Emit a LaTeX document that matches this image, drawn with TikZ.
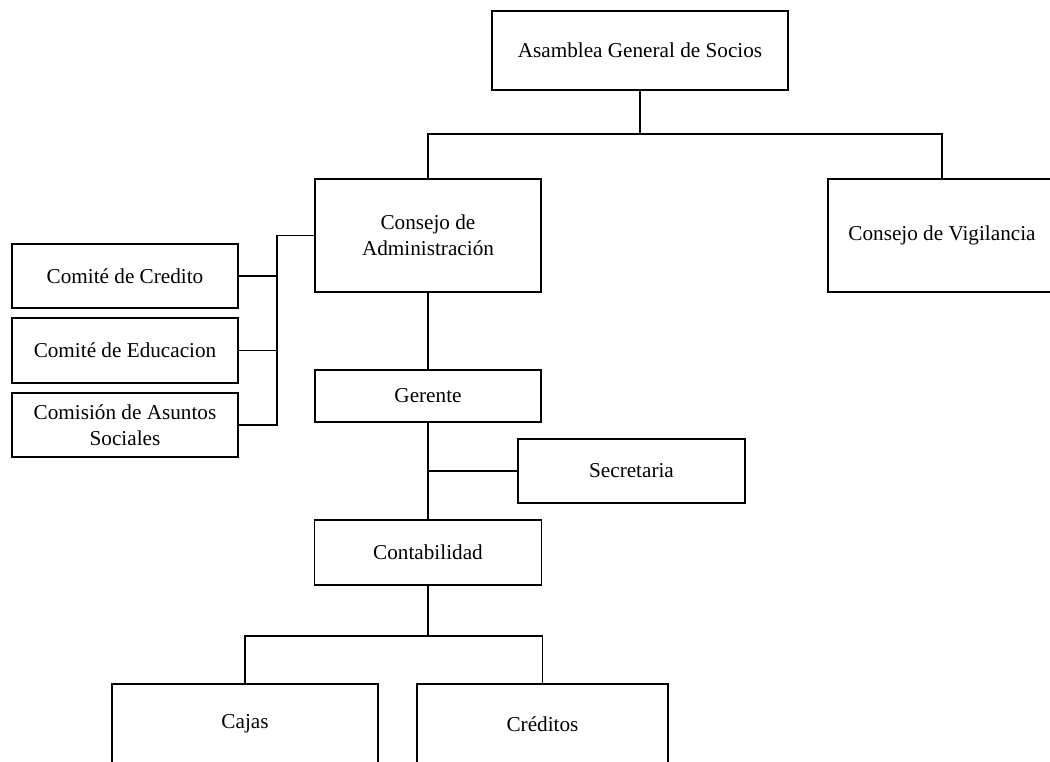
\documentclass[tikz,border=0pt]{standalone}
\usepackage{fontspec}
\setmainfont{Liberation Serif}
\begin{document}
\begin{tikzpicture}[x=1pt,y=-1pt,
  unit/.style={draw=black, line width=1.1pt, rectangle, inner sep=0pt,
    align=center, font=\fontsize{21.2}{26}\selectfont},
  link/.style={draw=black, line width=1.1pt}]
\useasboundingbox (0,0) rectangle (1050,761);
\clip (0,0) rectangle (1050,761);

% organisational units
\node[unit, minimum width=296pt, minimum height=79pt]  (asam)  at (640,50.5)  {Asamblea General de Socios};
\node[unit, minimum width=226pt, minimum height=113pt] (cadm)  at (428,235.5) {Consejo de\\Administración};
\node[unit, minimum width=228pt, minimum height=113pt] (cvig)  at (942,235.5) {Consejo de Vigilancia};
\node[unit, minimum width=226pt, minimum height=64pt]  (ccred) at (125,276)   {Comité de Credito};
\node[unit, minimum width=226pt, minimum height=65pt]  (cedu)  at (125,350.5) {Comité de Educacion};
\node[unit, minimum width=226pt, minimum height=64pt]  (casun) at (125,425)   {Comisión de Asuntos\\Sociales};
\node[unit, minimum width=226pt, minimum height=52pt]  (ger)   at (428,396)   {Gerente};
\node[unit, minimum width=227pt, minimum height=64pt]  (secr)  at (631.5,471) {Secretaria};
\node[unit, minimum width=227pt, minimum height=65pt]  (cont)  at (428,552.5) {Contabilidad};
\node[unit, minimum width=266pt, minimum height=80pt]  (cajas) at (245,724)   {Cajas};
\node[unit, minimum width=251pt, minimum height=80pt]  (cred)  at (542.5,724) {Créditos};

% junction points of the connector buses
\coordinate (top)  at (640,134);
\coordinate (lbus) at (277,235.5);
\coordinate (bbus) at (428,636);

% connectors
\draw[link] (asam.south) -- (top);
\draw[link] (cadm.north) |- (top) -| (cvig.north);
\draw[link] (cadm.west) -- (lbus) |- (casun.east);
\draw[link] (ccred.east) -- (ccred.east -| lbus);
\draw[link] (cedu.east) -- (cedu.east -| lbus);
\draw[link] (cadm.south) -- (ger.north);
\draw[link] (ger.south) -- (cont.north);
\draw[link] (secr.west) -- (secr.west -| ger.south);
\draw[link] (cont.south) -- (bbus);
\draw[link] (cajas.north) |- (bbus) -| (cred.north);
\end{tikzpicture}
\end{document}
